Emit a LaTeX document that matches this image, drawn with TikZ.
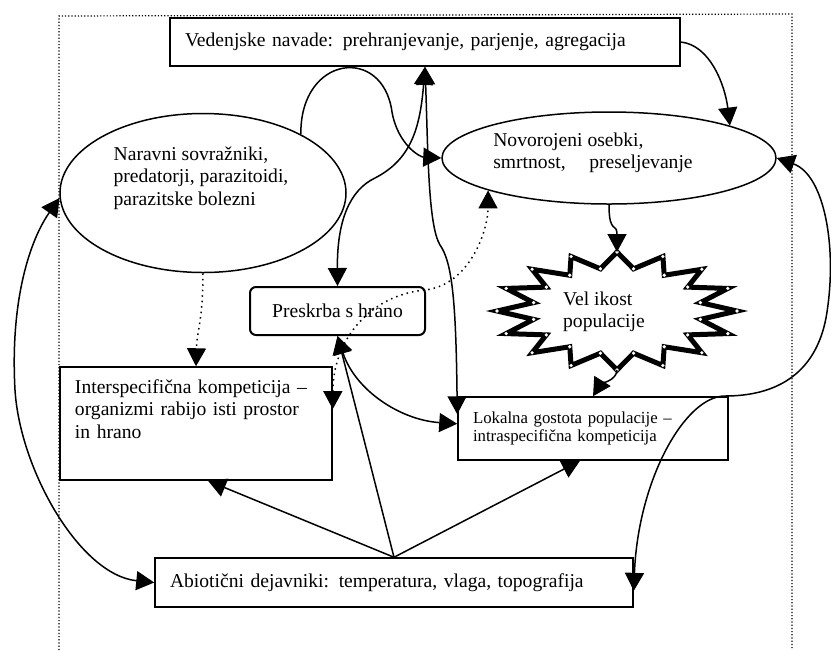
\documentclass[tikz,border=0pt]{standalone}
\usepackage{fontspec}
\setmainfont{Liberation Serif}
\usetikzlibrary{arrows.meta,shapes.geometric}

\begin{document}
\begin{tikzpicture}[x=0.5pt,y=-0.5pt,
    every node/.style={font=\fontsize{9.8}{11.25}\selectfont},
    box/.style={draw, line width=0.75pt, fill=white, inner xsep=7.5pt, inner ysep=0pt, align=left},
    oval/.style={draw, ellipse, line width=0.75pt, fill=white, inner sep=0pt},
    link/.style={line width=0.75pt, -{Triangle[length=9pt,width=9.5pt]}},
    twolink/.style={line width=0.75pt, {Triangle[length=9pt,width=9.5pt]}-{Triangle[length=9pt,width=9.5pt]}}]

    \useasboundingbox (0,0) rectangle (831,650);

    % dotted frame
    \draw[densely dotted, line width=0.6pt] (59,650) -- (59,16) -- (792,14) -- (792,650);

    \node[box, minimum width=255pt, minimum height=24pt, text width=240pt] (ved) at (425,42) {Vedenjske navade: prehranjevanje, parjenje, agregacija};

    \node[oval, minimum width=143pt, minimum height=79.5pt] (nar) at (203,193) {};
    \node[align=left] (nartext) at (201,178) {Naravni sovražniki,\\predatorji, parazitoidi,\\parazitske bolezni};

    \node[oval, minimum width=167pt, minimum height=46pt] (nov) at (609,158) {};
    \node[align=left] (novtext) at (593,153) {Novorojeni osebki,\\smrtnost,\hspace{1.2em}preseljevanje};

    \node[box, rounded corners=3pt, line width=1pt, minimum width=87.5pt, minimum height=24pt] (pre) at (337.5,311) {Preskrba s hrano};

    \node[box, minimum width=136pt, minimum height=56.5pt, text width=121pt] (int) at (196,423.5) {Interspecifična kompeticija –\\organizmi rabijo isti prostor\\in hrano\\\strut};

    \node[box, minimum width=135pt, minimum height=31.5pt, text width=120pt, font=\fontsize{8.4}{8.6}\selectfont] (lok) at (593,428.5) {Lokalna gostota populacije –\\intraspecifična kompeticija};

    \node[box, minimum width=239pt, minimum height=24.5pt, text width=224pt] (abi) at (394,582.5) {Abiotični dejavniki: temperatura, vlaga, topografija};

    % star
    \draw[line width=2.5pt, line join=miter, fill=white] plot[samples at={0,...,31}] ({617+(mod(\x,2)==0 ? 120 : 85)*sin(\x*11.25)}, {311-(mod(\x,2)==0 ? 59 : 43)*cos(\x*11.25)}) -- cycle;
    \foreach \k in {0,...,31}
        \fill[white] ({617+(mod(\k,2)==0 ? 120 : 85)*sin(\k*11.25)}, {311-(mod(\k,2)==0 ? 59 : 43)*cos(\k*11.25)}) circle (0.9pt);
    \node[align=left] (vel) at (604,312) {Vel ikost\\populacije};
    \coordinate (veltop) at (617,252);
    \coordinate (velbot) at (617,370);

    \draw[link] (nar.31) .. controls (300,55) and (383,45) .. (392,112) .. controls (398,145) and (420,157) .. (nov.west);
    \draw[twolink] (pre.north) .. controls (337,220) and (350,190) .. (375,178) .. controls (410,160) and (420,130) .. (ved.south);
    \draw[twolink] (ved.south) .. controls (428,150) and (428,225) .. (440,245) .. controls (452,262) and (456,300) .. (lok.174);
    \draw[link] (ved.east) .. controls (710,45) and (725,85) .. (nov.15);
    \draw[link] (nov.south) .. controls (609,235) and (617,222) .. (veltop);
    \draw[link] (velbot) .. controls (617,380) and (600,385) .. (lok.north);

    \draw[link, dotted] (nar.south) .. controls (203,320) and (197,330) .. (int.north);
    \draw[twolink, dotted] (int.6.5) .. controls (333,340) and (370,295) .. (425,290) .. controls (470,285) and (488,230) .. (nov.195);

    \draw[link] (abi.north) -- ([xshift=6pt]int.south);
    \draw[link] (abi.north) -- (pre.south);
    \draw[link] (abi.north) -- ([xshift=-6.5pt]lok.south);
    \draw[twolink] (pre.south) .. controls (355,390) and (400,420) .. (lok.178);

    \draw[twolink] (nar.182) .. controls (30,240) and (10,300) .. (15,390) .. controls (20,470) and (80,575) .. (abi.west);
    \draw[twolink] (nov.east) .. controls (825,175) and (838,250) .. (826,318) .. controls (815,375) and (775,396) .. (725,396) .. controls (685,396) and (638,480) .. (abi.-2.5);

\end{tikzpicture}
\end{document}
